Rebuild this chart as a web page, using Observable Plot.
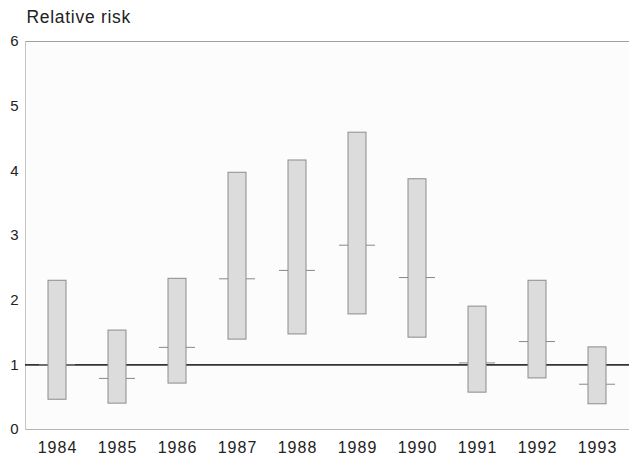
<!DOCTYPE html>
<html>
<head>
<meta charset="utf-8">
<script src="https://cdn.jsdelivr.net/npm/d3@7"></script>
<script src="https://cdn.jsdelivr.net/npm/@observablehq/plot@0.6"></script>
<style>
  html, body { margin: 0; padding: 0; background: #fff; }
  svg { display: block; }
  .xax text { letter-spacing: 1px; }
  .ttl text { letter-spacing: 0.7px; }
</style>
</head>
<body>
<div id="chart"></div>
<script>
const years = ["1984","1985","1986","1987","1988","1989","1990","1991","1992","1993"];
const lower = [0.46, 0.40, 0.71, 1.39, 1.47, 1.78, 1.42, 0.57, 0.79, 0.39];
const upper = [2.30, 1.53, 2.33, 3.97, 4.16, 4.59, 3.87, 1.90, 2.30, 1.27];
const estimate = [1.00, 0.79, 1.27, 2.33, 2.46, 2.85, 2.35, 1.03, 1.36, 0.70];
const yTicks = [0, 1, 2, 3, 4, 5, 6];
const yLabel = "Relative risk";

const data = years.map((y, i) => ({year: y, lo: lower[i], hi: upper[i], est: estimate[i]}));

const chart = Plot.plot({
  width: 629,
  height: 460,
  marginLeft: 25,
  marginRight: 0,
  marginTop: 41,
  marginBottom: 31,
  style: {fontFamily: "'Liberation Sans', Arial, sans-serif", fontSize: "15px", color: "#222", background: "#fff"},
  x: {domain: years, padding: 0, label: null},
  y: {domain: [0, 6], label: null},
  marks: [
    Plot.frame({fill: "#fcfcfc", stroke: null}),
    Plot.frame({anchor: "top", stroke: "#a0a0a0", strokeWidth: 1.2}),
    Plot.frame({anchor: "bottom", stroke: "#b4b4b4", strokeWidth: 1}),
    Plot.frame({anchor: "left", stroke: "#c4c4c4", strokeWidth: 1}),
    Plot.ruleY([1], {stroke: "#333", strokeWidth: 1.6}),
    Plot.tickY(data, {x: "year", y: "est", stroke: "#888", strokeWidth: 1, insetLeft: 12, insetRight: 12}),
    Plot.barY(data, {x: "year", y1: "lo", y2: "hi", fill: "#dcdcdc", stroke: "#8c8c8c", strokeWidth: 1, insetLeft: 21, insetRight: 21}),
    Plot.axisX({tickSize: 0, tickPadding: 12, fontSize: 16, className: "xax", label: null}),
    Plot.axisY({ticks: yTicks, tickFormat: "d", tickSize: 0, tickPadding: 7, fontSize: 15, label: null}),
    Plot.text([yLabel], {frameAnchor: "top-left", dx: 1, dy: -31, text: d => d, textAnchor: "start", lineAnchor: "top", fontSize: 17.5, fill: "#222", className: "ttl"})
  ]
});
document.getElementById("chart").appendChild(chart);
</script>
</body>
</html>
